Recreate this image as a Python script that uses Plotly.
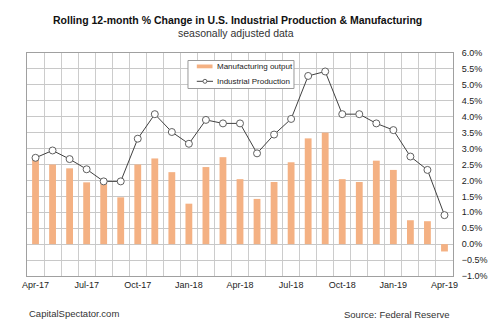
import plotly.graph_objects as go

months = ["Apr-17", "May-17", "Jun-17", "Jul-17", "Aug-17", "Sep-17", "Oct-17", "Nov-17",
          "Dec-17", "Jan-18", "Feb-18", "Mar-18", "Apr-18", "May-18", "Jun-18", "Jul-18",
          "Aug-18", "Sep-18", "Oct-18", "Nov-18", "Dec-18", "Jan-19", "Feb-19", "Mar-19",
          "Apr-19"]
manufacturing = [2.67, 2.50, 2.38, 1.94, 1.92, 1.47, 2.50, 2.69, 2.26, 1.27, 2.42, 2.73,
                 2.04, 1.42, 1.95, 2.57, 3.32, 3.50, 2.04, 1.95, 2.62, 2.33, 0.75, 0.72,
                 -0.23]
industrial = [2.71, 2.94, 2.67, 2.35, 1.97, 1.97, 3.31, 4.08, 3.52, 3.15, 3.90, 3.79,
              3.79, 2.85, 3.44, 3.93, 5.28, 5.42, 4.08, 4.08, 3.79, 3.58, 2.75, 2.33,
              0.91]
tick_labels = ["Apr-17", "Jul-17", "Oct-17", "Jan-18", "Apr-18", "Jul-18", "Oct-18",
               "Jan-19", "Apr-19"]

idx = list(range(len(months)))
tick_idx = [months.index(t) for t in tick_labels]

BAR_COLOR = "#F4B183"
LINE_COLOR = "#404040"
FONT = "Liberation Sans, Arial, sans-serif"

# plot area in pixels (for placing decorations)
W, H = 500, 330
PL, PR, PT, PB = 27, 461, 53, 276


def px(x):
    return (x - PL) / (PR - PL)


def py(y):
    return (PB - y) / (PB - PT)


fig = go.Figure()
fig.add_trace(go.Bar(
    x=idx, y=manufacturing, name="Manufacturing output",
    marker=dict(color=BAR_COLOR, line=dict(width=0)), width=0.4,
))
fig.add_trace(go.Scatter(
    x=idx, y=industrial, name="Industrial Production", mode="lines+markers",
    line=dict(color=LINE_COLOR, width=1),
    marker=dict(symbol="circle", size=7, color="white", line=dict(color="#606060", width=1)),
))

annotations = [
    dict(text="<b>Rolling 12-month % Change in U.S. Industrial Production &amp; Manufacturing</b>",
         x=px(241.5), y=py(20), xanchor="center", font=dict(size=10.5, color="#111111")),
    dict(text="seasonally adjusted data", x=px(240), y=py(33), xanchor="center",
         font=dict(size=10.5, color="#333333")),
    dict(text="CapitalSpectator.com", x=px(27), y=py(313), xanchor="left",
         font=dict(size=9.5, color="#333333")),
    dict(text="Source: Federal Reserve", x=px(460), y=py(314), xanchor="right",
         font=dict(size=9.5, color="#333333")),
    # custom legend texts
    dict(text="Manufacturing output", x=px(219), y=py(66.3), xanchor="left",
         font=dict(size=8, color="#222222")),
    dict(text="Industrial Production", x=px(219), y=py(81.3), xanchor="left",
         font=dict(size=8, color="#222222")),
]
for a in annotations:
    a.update(xref="paper", yref="paper", showarrow=False, yanchor="middle")

shapes = [
    dict(type="rect", xref="paper", yref="paper", x0=px(191), x1=px(299), y0=py(60.5), y1=py(88.5),
         line=dict(color="#999999", width=1), fillcolor="white", layer="above"),
    dict(type="rect", xref="paper", yref="paper", x0=px(200), x1=px(216), y0=py(64.5), y1=py(68.3),
         line=dict(width=0), fillcolor=BAR_COLOR, layer="above"),
    dict(type="line", xref="paper", yref="paper", x0=px(200), x1=px(216.5), y0=py(81.3), y1=py(81.3),
         line=dict(color=LINE_COLOR, width=1), layer="above"),
    dict(type="circle", xref="paper", yref="paper", x0=px(206.3), x1=px(210.3), y0=py(79.3), y1=py(83.3),
         line=dict(color="#606060", width=1), fillcolor="white", layer="above"),
]

fig.update_layout(
    width=W, height=H,
    margin=dict(l=PL, r=W - PR, t=PT, b=H - PB),
    paper_bgcolor="white", plot_bgcolor="white",
    font=dict(family=FONT, size=9, color="#333333"),
    showlegend=False,
    bargap=0.6,
    annotations=annotations,
    shapes=shapes,
)

fig.update_xaxes(
    range=[-0.5, len(months) - 0.5],
    tickmode="array", tickvals=tick_idx, ticktext=tick_labels,
    showgrid=False, ticks="", tickfont=dict(size=9, color="#222222"),
    showline=True, linecolor="#a0a0a0", linewidth=1, mirror=True,
    minor=dict(tick0=-0.5, dtick=1, showgrid=True, gridcolor="#cccccc", gridwidth=1),
    zeroline=False,
)
fig.update_yaxes(
    side="right", range=[-1.0, 6.0], dtick=0.5, tick0=0,
    tickformat=".1f", ticksuffix="%",
    showgrid=True, gridcolor="#c8c8c8", gridwidth=1,
    zeroline=False, ticklabelstandoff=6,
    showline=True, linecolor="#a0a0a0", linewidth=1, mirror=True,
    tickfont=dict(size=9, color="#222222"),
)

fig.write_html("out.html")
